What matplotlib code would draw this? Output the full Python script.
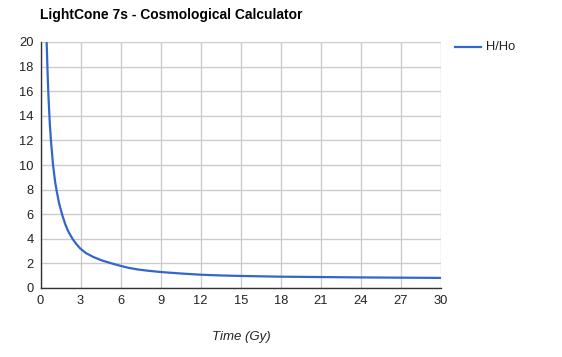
import matplotlib
matplotlib.use("Agg")
import matplotlib.pyplot as plt
from matplotlib.lines import Line2D

plt.rcParams['font.family'] = ['Liberation Sans', 'DejaVu Sans']

# Data
time_gy = [0.46, 0.5, 0.55, 0.6, 0.7, 0.79, 0.94, 1.1, 1.21, 1.4, 1.64, 1.85, 2.08,
           2.41, 2.7, 2.96, 3.4, 3.96, 4.6, 5.33, 6.0, 6.6, 7.33, 8.0, 9.0, 10.5,
           12.0, 13.5, 15.0, 18.0, 21.0, 24.0, 27.0, 30.0]
h_ho = [20.0, 18.6, 16.9, 15.5, 13.3, 11.9, 10.0, 8.6, 7.9, 6.85, 5.9, 5.2, 4.6,
        3.98, 3.55, 3.23, 2.84, 2.52, 2.24, 2.0, 1.8, 1.64, 1.5, 1.41, 1.3, 1.18,
        1.08, 1.02, 0.98, 0.92, 0.89, 0.86, 0.84, 0.82]
x_ticks = list(range(0, 31, 3))
y_ticks = list(range(0, 21, 2))
title = "LightCone 7s - Cosmological Calculator"
series_name = "H/Ho"
x_title = "Time (Gy)"

W, H = 562, 357
fig = plt.figure(figsize=(W / 100, H / 100), dpi=100)
ax = fig.add_axes([40.5 / W, 1 - 288 / H, (441 - 40.5) / W, (288 - 42) / H])

ax.plot(time_gy, h_ho, color='#3366cc', lw=1.6, solid_capstyle='butt',
        solid_joinstyle='round', clip_on=True, zorder=3)

ax.set_xlim(0, 30)
ax.set_ylim(0, 20)
ax.set_xticks(x_ticks)
ax.set_yticks(y_ticks)
ax.grid(True, color='#cccccc', lw=1)
ax.set_axisbelow(True)
ax.tick_params(length=0, labelsize=9.3, labelcolor='#222222', pad=5)
for s in ['top', 'right']:
    ax.spines[s].set_visible(False)
for s in ['left', 'bottom']:
    ax.spines[s].set_color('#333333')
    ax.spines[s].set_linewidth(1)
    ax.spines[s].set_zorder(4)

fig.text(40 / W, 1 - 15 / H, title, fontsize=10, fontweight='bold', va='center', ha='left', color='#000000')
fig.text(241 / W, 1 - 337 / H, x_title, fontsize=9.5, style='italic', va='center', ha='center', color='#222222')

# legend
fig.add_artist(Line2D([455 / W, 481 / W], [1 - 47 / H, 1 - 47 / H], color='#3366cc', lw=1.6,
                      transform=fig.transFigure))
fig.text(486 / W, 1 - 47 / H, series_name, fontsize=9.3, va='center', ha='left', color='#222222')

fig.savefig("out.png", dpi=100)
